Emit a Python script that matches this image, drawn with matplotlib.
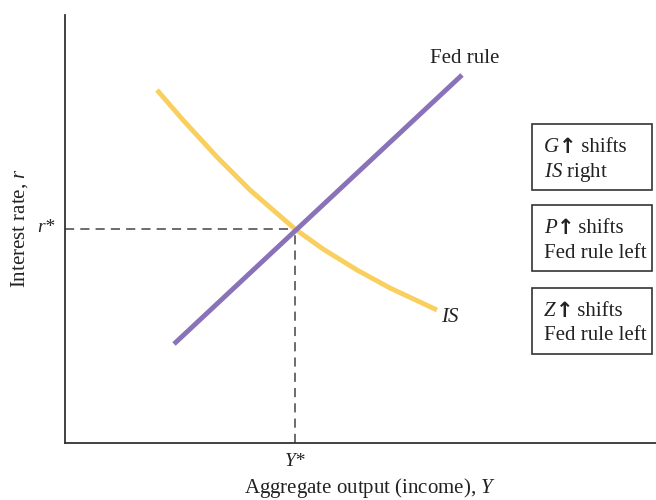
import matplotlib
matplotlib.use("Agg")
import matplotlib.pyplot as plt
from matplotlib.patches import Rectangle
from matplotlib.transforms import offset_copy

plt.rcParams['font.family'] = ['Liberation Serif', 'DejaVu Serif']
plt.rcParams['mathtext.fontset'] = 'custom'
plt.rcParams['mathtext.rm'] = 'Liberation Serif'
plt.rcParams['mathtext.it'] = 'Liberation Serif:italic'

# Data (in chart units, y increases upward)
fed_x = [174, 462]
fed_y = [156, 425]
is_x = [157, 183, 217, 250, 295, 323, 357, 390, 437]
is_y = [410, 380, 343, 310, 271, 251, 230, 212, 190]
eq_x, eq_y = 295, 271
box_letters = ["G", "P", "Z"]
box_second = ["$\\mathit{IS}$ right", "Fed rule left", "Fed rule left"]

fig = plt.figure(figsize=(6.56, 5.0), dpi=100)
ax = fig.add_axes([65 / 656, 57 / 500, 591 / 656, 428 / 500])
ax.set_xlim(65, 656)
ax.set_ylim(57, 485)
for s in ['top', 'right']:
    ax.spines[s].set_visible(False)
for s in ['left', 'bottom']:
    ax.spines[s].set_color('#333333')
    ax.spines[s].set_linewidth(1.3)
ax.set_xticks([])
ax.set_yticks([])

ax.plot([65, eq_x], [eq_y, eq_y], color='#444444', lw=1.1, ls=(0, (6, 4)))
ax.plot([eq_x, eq_x], [57, eq_y], color='#444444', lw=1.1, ls=(0, (6, 4)))

ax.plot(is_x, is_y, color='#F9CF5E', lw=3.5, solid_capstyle='butt', solid_joinstyle='round')
ax.plot(fed_x, fed_y, color='#8A72B8', lw=3.5, solid_capstyle='butt')

fs = 15
tc = '#222222'
ax.text(465, 442, "Fed rule", fontsize=fs, ha='center', va='center', color=tc)
ax.text(441, 183, "IS", fontsize=fs, style='italic', ha='left', va='center', color=tc)
ax.text(46, 273, "r*", fontsize=fs - 1, style='italic', ha='center', va='center', color=tc)
ax.text(eq_x, 39, "Y*", fontsize=fs - 1, style='italic', ha='center', va='center', color=tc)
fig.text(370 / 656, 1 - 488 / 500, "Aggregate output (income), $\\mathit{Y}$", fontsize=fs,
         ha='center', va='center', color=tc)
fig.text(20 / 656, 1 - 228 / 500, "Interest rate, $\\mathit{r}$", fontsize=fs, rotation=90,
         ha='center', va='center', color=tc)

renderer = fig.canvas.get_renderer()
box_tops = [124, 205, 288]
for top, letter, l2 in zip(box_tops, box_letters, box_second):
    yt = 500 - top
    ax.add_patch(Rectangle((532, yt - 66), 120, 66, fill=False, ec='#333333', lw=1.2, clip_on=False))
    t1 = ax.text(544, yt - 23, letter, fontsize=fs, style='italic', ha='left', va='center', color=tc)
    w1 = t1.get_window_extent(renderer).width
    ta = ax.text(544, yt - 23, "\u2191", fontsize=fs, fontweight='bold', family='DejaVu Sans',
                 ha='left', va='center', color=tc,
                 transform=offset_copy(ax.transData, fig=fig, x=w1, y=0, units='dots'))
    wa = ta.get_window_extent(renderer).width
    ax.text(544, yt - 23, " shifts", fontsize=fs, ha='left', va='center', color=tc,
            transform=offset_copy(ax.transData, fig=fig, x=w1 + wa - 1, y=0, units='dots'))
    ax.text(544, yt - 48, l2, fontsize=fs, ha='left', va='center', color=tc)

fig.savefig("out.png", dpi=100)
